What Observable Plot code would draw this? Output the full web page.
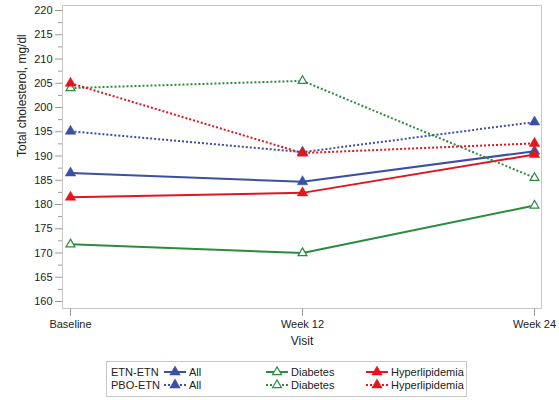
<!DOCTYPE html>
<html><head><meta charset="utf-8">
<script src="https://cdn.jsdelivr.net/npm/d3@7"></script>
<script src="https://cdn.jsdelivr.net/npm/@observablehq/plot@0.6"></script>
<style>
body{margin:0;background:#fff;font-family:"Liberation Sans",Arial,sans-serif;}
#wrap{width:559px;height:400px;}
svg{display:block;}
</style></head><body><div id="wrap"></div>
<script>
const visits = ["Baseline", "Week 12", "Week 24"];
const groups = ["ETN-ETN", "PBO-ETN"];
const subgroups = ["All", "Diabetes", "Hyperlipidemia"];
const etnAll = [186.5, 184.7, 191.0];
const etnDiabetes = [171.8, 170.0, 179.8];
const etnHyper = [181.5, 182.4, 190.3];
const pboAll = [195.1, 190.8, 197.0];
const pboDiabetes = [204.0, 205.5, 185.5];
const pboHyper = [205.0, 190.6, 192.6];
const yMajor = [160, 165, 170, 175, 180, 185, 190, 195, 200, 205, 210, 215, 220];
const yMinor = [162.5, 167.5, 172.5, 177.5, 182.5, 187.5, 192.5, 197.5, 202.5, 207.5, 212.5, 217.5];
const palette = ["#3B4FA4", "#2B8B3F", "#E3151F"];

const series = [
  ["ETN-ETN", "All", etnAll],
  ["ETN-ETN", "Diabetes", etnDiabetes],
  ["ETN-ETN", "Hyperlipidemia", etnHyper],
  ["PBO-ETN", "All", pboAll],
  ["PBO-ETN", "Diabetes", pboDiabetes],
  ["PBO-ETN", "Hyperlipidemia", pboHyper]
];
const rows = [];
for (const [g, s, arr] of series) {
  visits.forEach((v, i) => rows.push({group: g, sub: s, key: g + s, visit: v, value: arr[i]}));
}
const etnRows = rows.filter(d => d.group === "ETN-ETN");
const pboRows = rows.filter(d => d.group === "PBO-ETN");
const filledRows = rows.filter(d => d.sub !== "Diabetes");
const hollowRows = rows.filter(d => d.sub === "Diabetes");

const font = '"Liberation Sans", Arial, sans-serif';
const rFilled = 3.9, rHollow = 3.3;
const chart = Plot.plot({
  width: 559, height: 355,
  marginLeft: 62, marginRight: 18, marginTop: 5, marginBottom: 47,
  style: {fontFamily: font, fontSize: "11px", color: "#333", background: "white"},
  x: {type: "point", domain: visits, padding: 0.028, label: null},
  y: {domain: [158.56, 221.03], label: null},
  color: {domain: subgroups, range: palette},
  marks: [
    Plot.frame({stroke: "#c8c8c8"}),
    Plot.axisY(yMajor, {tickSize: 7, tickPadding: 3, stroke: "#999", fill: "#222", label: null, fontSize: 11}),
    Plot.axisY(yMinor, {tickSize: 4, tickFormat: () => "", stroke: "#999", label: null}),
    Plot.axisX({tickSize: 8, tickPadding: 4, stroke: "#999", fill: "#222", label: null, fontSize: 11}),
    Plot.text(["Visit"], {frameAnchor: "bottom", dy: 36, fontSize: 12, fill: "#222"}),
    Plot.text(["Total cholesterol, mg/dl"], {frameAnchor: "left", dx: -40, rotate: -90, fontSize: 12, fill: "#222"}),
    Plot.line(etnRows, {x: "visit", y: "value", z: "key", stroke: "sub", strokeWidth: 2}),
    Plot.line(pboRows, {x: "visit", y: "value", z: "key", stroke: "sub", strokeWidth: 2, strokeDasharray: "2,2", strokeLinecap: "butt"}),
    Plot.dot(hollowRows, {x: "visit", y: "value", symbol: "triangle", r: rHollow, fill: "white", stroke: "sub", strokeWidth: 1.2}),
    Plot.dot(filledRows, {x: "visit", y: "value", symbol: "triangle", r: rFilled, fill: "sub", stroke: "sub", strokeWidth: 0.5})
  ]
});
const wrap = document.getElementById("wrap");
wrap.appendChild(chart);

// legend
const lg = d3.select(wrap).append("svg").attr("width", 559).attr("height", 45)
  .style("font-family", font).style("font-size", "11px");
lg.append("rect").attr("x", 106.5).attr("y", 6.5).attr("width", 360).attr("height", 35)
  .attr("fill", "none").attr("stroke", "#c8c8c8");
const rowY = [17, 30];
const sampleX = [164, 266, 366];
groups.forEach((g, gi) => {
  const y = rowY[gi];
  lg.append("text").attr("x", 111).attr("y", y).attr("dy", "0.35em").attr("fill", "#222").text(g);
  subgroups.forEach((s, si) => {
    const x0 = sampleX[si];
    const c = palette[si];
    lg.append("line").attr("x1", x0).attr("x2", x0 + 22).attr("y1", y).attr("y2", y)
      .attr("stroke", c).attr("stroke-width", 2).attr("stroke-dasharray", gi === 1 ? "2,2" : null);
    const hollow = s === "Diabetes";
    const r = hollow ? rHollow : rFilled;
    lg.append("path").attr("d", d3.symbol(d3.symbolTriangle, r * r * Math.PI)())
      .attr("transform", `translate(${x0 + 11},${y})`)
      .attr("fill", hollow ? "white" : c).attr("stroke", c).attr("stroke-width", hollow ? 1.2 : 0.5);
    lg.append("text").attr("x", x0 + 25).attr("y", y).attr("dy", "0.35em").attr("fill", "#222").text(s);
  });
});
</script></body></html>
